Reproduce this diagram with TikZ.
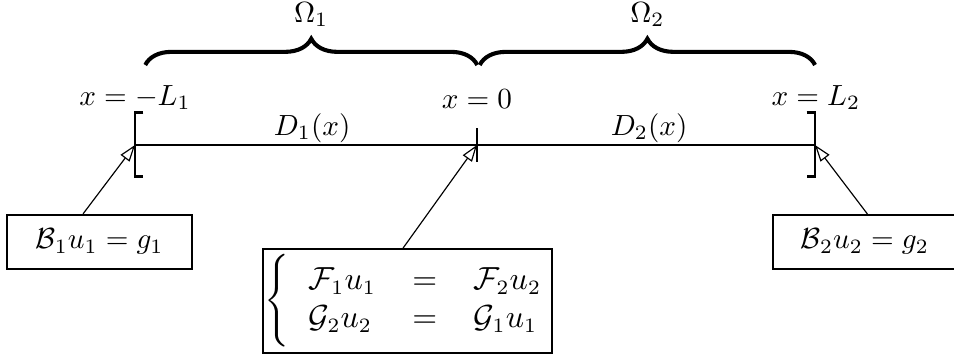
\documentclass[tikz,border=0pt]{standalone}
\usepackage{amsmath,amssymb}
\usepackage{xcolor}
\usepackage{tikz}
\usetikzlibrary{arrows.meta,decorations.pathreplacing}

\begin{document}
\begin{tikzpicture}
    \tikzset{
      bcbox/.style={draw,semithick,inner sep=0pt,minimum height=0.65cm},
      bcarrow/.style={-{Triangle[open,length=5.7pt,width=3.8pt]}},
      endbrk/.style={thick},
      subbrace/.style={decorate,decoration={brace,amplitude=9pt},line width=1.4pt}
    }
    \useasboundingbox (0,0) rectangle (11.494,4.313);
    % Interval ends and interface point
    \coordinate (lend) at (1.627,2.566);
    \coordinate (iface) at (5.747,2.566);
    \coordinate (rend) at (9.819,2.566);
    % The line and the two coefficients
    \draw (lend) -- (iface) -- (rend);
    \node (dA) at (3.76,2.77) {$D_1(x)$};
    \node (dB) at (7.82,2.77) {$D_2(x)$};
    % Brackets and tick
    \draw[endbrk] ([xshift=0.1cm,yshift=0.39cm]lend) -| ([yshift=-0.38cm]lend) -- ++(0.1,0);
    \draw[endbrk] ([xshift=-0.1cm,yshift=0.39cm]rend) -| ([yshift=-0.38cm]rend) -- ++(-0.1,0);
    \draw ([yshift=0.2cm]iface) -- ([yshift=-0.2cm]iface);
    % Point labels
    \node (xL) at (1.627,3.14) {$x=-L_1$};
    \node (xO) at (5.747,3.12) {$x=0$};
    \node (xR) at (9.83,3.14) {$x=L_2$};
    % Subdomains
    \coordinate (omA0) at (1.75,3.53);
    \coordinate (omA1) at (5.75,3.53);
    \coordinate (omB0) at (5.78,3.53);
    \coordinate (omB1) at (9.82,3.53);
    \draw[subbrace] (omA0) -- node[above=9pt] (omA) {$\Omega_1$} (omA1);
    \draw[subbrace] (omB0) -- node[above=9pt] (omB) {$\Omega_2$} (omB1);
    % Conditions
    \node[bcbox,minimum width=2.23cm] (bcA) at (1.20,1.40) {$\mathcal{B}_1u_1=g_1$};
    \node[bcbox,minimum width=2.22cm] (bcB) at (10.42,1.40) {$\mathcal{B}_2u_2=g_2$};
    \node[bcbox,minimum width=3.48cm,minimum height=1.25cm,
          font=\fontsize{10.6}{13}\selectfont] (tc) at (4.91,0.687)
      {$\left\{\vcenter{\hbox{\rule{0pt}{32pt}}}\begin{array}{@{\hspace{6.5pt}}l@{\hspace{12.5pt}}c@{\hspace{12.5pt}}l@{\hspace{2pt}}}
        \mathcal{F}_1u_1 & = & \mathcal{F}_2u_2\\
        \mathcal{G}_2u_2 & = & \mathcal{G}_1u_1
      \end{array}\right.$};
    \draw[bcarrow] ([xshift=-0.2cm]bcA.north) -- (lend);
    \draw[bcarrow] ([xshift=-0.055cm]tc.north) -- (iface);
    \draw[bcarrow] ([xshift=0.03cm]bcB.north) -- (rend);
\end{tikzpicture}
\end{document}
